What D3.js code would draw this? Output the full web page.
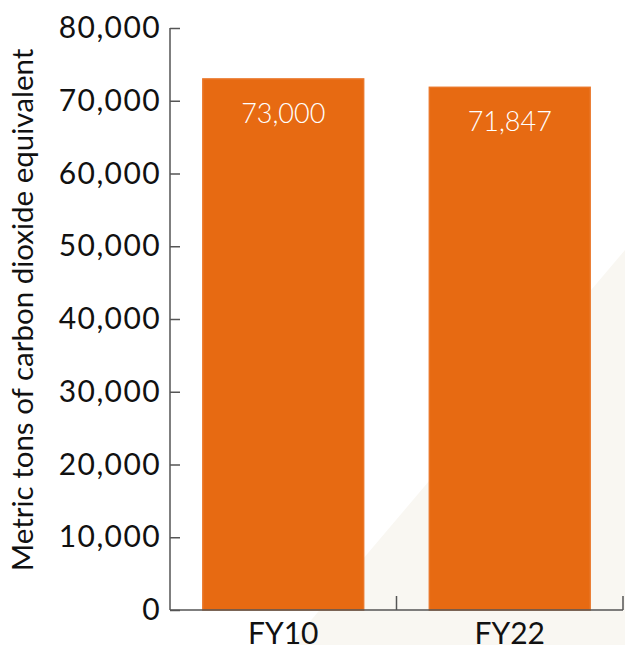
<!DOCTYPE html>
<html>
<head>
<meta charset="utf-8">
<script src="https://cdn.jsdelivr.net/npm/d3@7"></script>
<style>
  html, body { margin: 0; padding: 0; background: #ffffff; }
  svg { display: block; }
  text { font-family: "Lato", "Noto Sans", sans-serif; }
</style>
</head>
<body>
<svg id="chart" width="625" height="645"></svg>
<script>
// Emissions by fiscal year
const categories = ["FY10", "FY22"];
const values = [73000, 71847];
const valueLabels = ["73,000", "71,847"];
const yTicks = [0, 10000, 20000, 30000, 40000, 50000, 60000, 70000, 80000];
const yTitle = "Metric tons of carbon dioxide equivalent";

const W = 625, H = 645;
const margin = { left: 170, right: 2, top: 28, bottom: 35 };

const svg = d3.select("#chart");

// soft beige diagonal backdrop in the lower right
svg.append("path")
  .attr("d", `M290,${H} L${W},250 L${W},${H} Z`)
  .attr("fill", "#f9f7f2");

const x = d3.scaleBand()
  .domain(categories)
  .range([margin.left, W - margin.right])
  .paddingInner(0.29)
  .paddingOuter(0.145);

const y = d3.scaleLinear()
  .domain([0, 80000])
  .range([H - margin.bottom, margin.top]);

// bars
const bars = svg.append("g");
bars.selectAll("rect")
  .data(values)
  .join("rect")
  .attr("x", (d, i) => x(categories[i]))
  .attr("y", d => y(d))
  .attr("width", x.bandwidth())
  .attr("height", d => y(0) - y(d))
  .attr("fill", "#e76a12")
  .attr("stroke", "#ea7628")
  .attr("stroke-width", 1.5);

// value labels inside the bars
svg.append("g").selectAll("text")
  .data(values)
  .join("text")
  .attr("x", (d, i) => x(categories[i]) + x.bandwidth() / 2)
  .attr("y", d => y(d) + 44)
  .attr("text-anchor", "middle")
  .attr("fill", "#ffffff")
  .attr("font-size", 27)
  .attr("font-weight", 300)
  .text((d, i) => valueLabels[i]);

// y axis: ticks point inward
const yAxis = d3.axisRight(y)
  .tickValues(yTicks)
  .tickFormat(d3.format(","))
  .tickSize(10);
const gy = svg.append("g")
  .attr("transform", `translate(${margin.left},0)`)
  .call(yAxis);
gy.select(".domain").attr("d", `M${0},${y(80000)}V${y(0)}`).attr("stroke", "#555").attr("stroke-width", 1.5);
gy.selectAll(".tick line").attr("stroke", "#555").attr("stroke-width", 1.5);
gy.selectAll(".tick text")
  .attr("text-anchor", "end")
  .attr("x", -9)
  .attr("fill", "#111")
  .attr("font-size", 30)
  .attr("letter-spacing", 1.4)
  .style("font-family", "Lato, sans-serif");

// x axis: baseline with upward ticks at band boundaries
const gx = svg.append("g");
gx.append("line")
  .attr("x1", margin.left).attr("x2", W - margin.right)
  .attr("y1", y(0)).attr("y2", y(0))
  .attr("stroke", "#555").attr("stroke-width", 1.5);
const bounds = categories.map(c => x(c) + x.bandwidth() + x.step() * x.paddingInner() / 2);
gx.selectAll("line.b")
  .data(bounds)
  .join("line")
  .attr("class", "b")
  .attr("x1", d => d).attr("x2", d => d)
  .attr("y1", y(0)).attr("y2", y(0) - 14)
  .attr("stroke", "#555").attr("stroke-width", 1.5);
gx.selectAll("text")
  .data(categories)
  .join("text")
  .attr("x", d => x(d) + x.bandwidth() / 2)
  .attr("y", H - 1)
  .attr("text-anchor", "middle")
  .attr("fill", "#111")
  .attr("font-size", 30)
  .text(d => d);

// y axis title
svg.append("text")
  .attr("transform", `translate(33,310) rotate(-90)`)
  .attr("text-anchor", "middle")
  .attr("fill", "#111")
  .attr("font-size", 29.5)
  .text(yTitle);
</script>
</body>
</html>
